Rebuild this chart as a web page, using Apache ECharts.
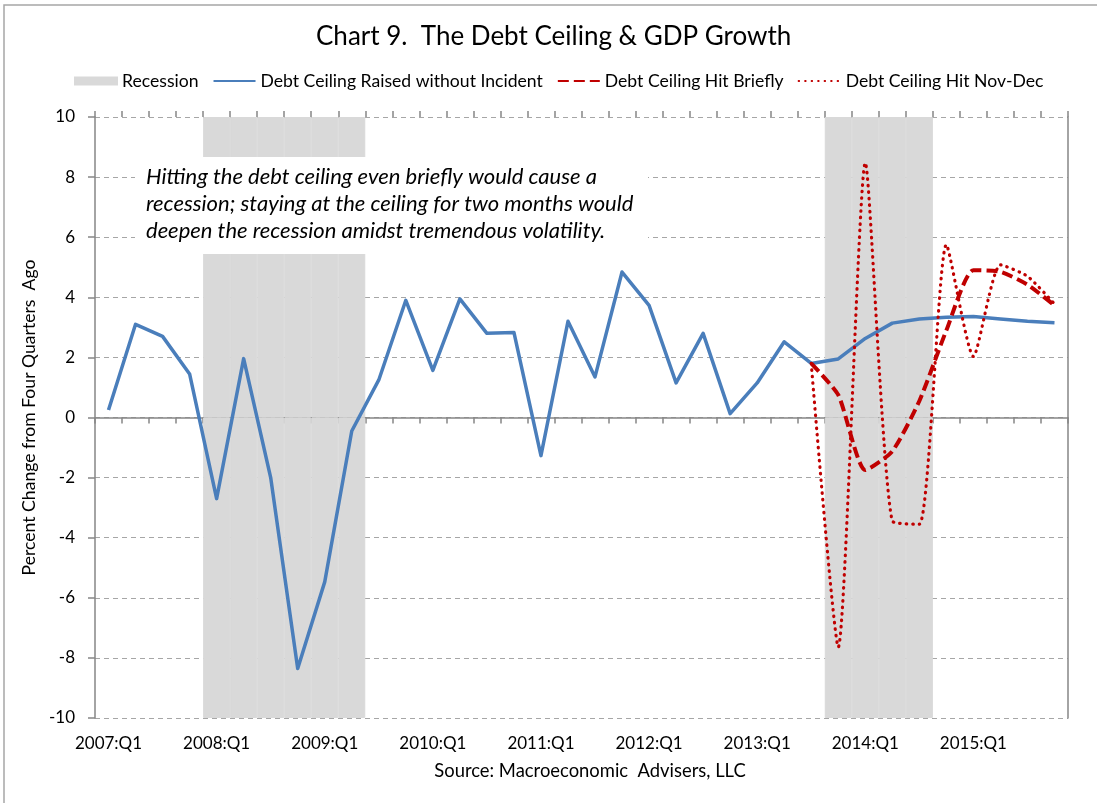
<!DOCTYPE html>
<html>
<head>
<meta charset="utf-8">
<title>Chart 9. The Debt Ceiling &amp; GDP Growth</title>
<script src="https://cdn.jsdelivr.net/npm/echarts@6/dist/echarts.min.js"></script>
<style>
  html, body { margin: 0; padding: 0; background: #fff; }
  #chart { width: 1097px; height: 803px; }
</style>
</head>
<body>
<div id="chart"></div>
<script>
// Quarterly categories, 2007:Q1 through 2015:Q4
const quarters = [];
for (let y = 2007; y <= 2015; y++) {
  for (let q = 1; q <= 4; q++) quarters.push(y + ':Q' + q);
}

// Recession periods (first and last quarter shaded)
const recessions = [
  ['2008:Q1', '2009:Q2'],
  ['2013:Q4', '2014:Q3']
];

// Real GDP, percent change from four quarters ago
const raisedWithoutIncident = [
  0.25, 3.1, 2.7, 1.45, -2.7, 1.96, -2.0, -8.35, -5.47, -0.45,
  1.25, 3.9, 1.57, 3.95, 2.8, 2.83, -1.27, 3.2, 1.35, 4.84,
  3.73, 1.15, 2.8, 0.13, 1.15, 2.52, 1.8, 1.95, 2.63, 3.14,
  3.28, 3.34, 3.36, 3.28, 3.2, 3.15
];
const hitBriefly = [
  null, null, null, null, null, null, null, null, null, null,
  null, null, null, null, null, null, null, null, null, null,
  null, null, null, null, null, null, 1.8, 0.75, -1.75, -1.12,
  0.55, 2.9, 4.9, 4.85, 4.42, 3.73
];
const hitNovDec = [
  null, null, null, null, null, null, null, null, null, null,
  null, null, null, null, null, null, null, null, null, null,
  null, null, null, null, null, null, 1.8, -7.64, 8.47, -3.45,
  -3.55, 5.75, 2.03, 5.08, 4.7, 3.78
];

const yTicks = [-10, -8, -6, -4, -2, 0, 2, 4, 6, 8, 10];

// Recession shading as full-height bars spanning whole quarters
const inRecession = quarters.map((q, i) =>
  recessions.some(([a, b]) => i >= quarters.indexOf(a) && i <= quarters.indexOf(b)));
const yMin = yTicks[0], yMax = yTicks[yTicks.length - 1];
const recessionUp = inRecession.map(f => f ? yMax : null);
const recessionDown = inRecession.map(f => f ? yMin : null);

const FONT = 'Lato, "Open Sans", sans-serif';
const AXIS_GRAY = '#868686';
const GRID_GRAY = '#a6a6a6';
const BLUE = '#4a7ebb';
const RED = '#c00000';
const SHADE = '#d9d9d9';
const TEXT_SIZE = 17.6;

// line entries in the legend show only the stroke, no marker
const lineLegend = name => ({ name, itemStyle: { opacity: 0 } });

const chart = echarts.init(document.getElementById('chart'), null, { renderer: 'canvas' });

chart.setOption({
  backgroundColor: '#ffffff',
  animation: false,
  textStyle: { fontFamily: FONT },
  title: {
    text: 'Chart 9.  The Debt Ceiling & GDP Growth',
    left: 316,
    top: 24,
    padding: 0,
    textStyle: { fontFamily: FONT, fontSize: 26, fontWeight: 'normal', color: '#000' }
  },
  legend: {
    left: 74,
    top: 72,
    padding: 0,
    itemWidth: 42,
    itemHeight: 7,
    itemGap: 14,
    textStyle: { fontFamily: FONT, fontSize: TEXT_SIZE, color: '#000' },
    data: [
      { name: 'Recession', icon: 'rect' },
      lineLegend('Debt Ceiling Raised without Incident'),
      lineLegend('Debt Ceiling Hit Briefly'),
      lineLegend('Debt Ceiling Hit Nov-Dec')
    ]
  },
  grid: { left: 95, right: 29, top: 117, bottom: 85 },
  xAxis: [
    {
      // labels along the bottom of the plot
      type: 'category',
      data: quarters,
      boundaryGap: true,
      position: 'bottom',
      axisLine: { show: false },
      axisTick: { show: false },
      axisLabel: {
        interval: 3,
        margin: 17,
        fontFamily: FONT,
        fontSize: 17,
        color: '#000'
      },
      splitLine: { show: false }
    },
    {
      // zero line with tick marks crossing it (upper half)
      type: 'category',
      data: quarters,
      boundaryGap: true,
      axisLine: { show: true, onZero: true, lineStyle: { color: AXIS_GRAY, width: 1.5 } },
      axisTick: { show: true, inside: true, length: 6, interval: 0, lineStyle: { color: AXIS_GRAY, width: 1.5 } },
      axisLabel: { show: false },
      splitLine: { show: false }
    },
    {
      // zero line tick marks (lower half)
      type: 'category',
      data: quarters,
      boundaryGap: true,
      axisLine: { show: false, onZero: true },
      axisTick: { show: true, inside: false, length: 6, interval: 0, lineStyle: { color: AXIS_GRAY, width: 1.5 } },
      axisLabel: { show: false },
      splitLine: { show: false }
    }
  ],
  yAxis: [
    {
      type: 'value',
      min: yMin,
      max: yMax,
      interval: 2,
      name: 'Percent Change from Four Quarters  Ago',
      nameLocation: 'middle',
      nameGap: 44,
      nameTextStyle: { fontFamily: FONT, fontSize: TEXT_SIZE, color: '#000' },
      axisLine: { show: true, lineStyle: { color: AXIS_GRAY, width: 1.5 } },
      axisTick: { show: true, length: 7, lineStyle: { color: AXIS_GRAY, width: 1.5 } },
      axisLabel: { fontFamily: FONT, fontSize: 17, color: '#000', margin: 20 },
      splitLine: { show: true, lineStyle: { color: GRID_GRAY, type: [5, 4], width: 1.2 } }
    },
    {
      type: 'value',
      min: yMin,
      max: yMax,
      interval: 2,
      position: 'right',
      axisLine: { show: true, lineStyle: { color: AXIS_GRAY, width: 1.5 } },
      axisTick: { show: false },
      axisLabel: { show: false },
      splitLine: { show: false }
    }
  ],
  series: [
    {
      name: 'Recession',
      type: 'bar',
      stack: 'recession',
      data: recessionUp,
      barWidth: '100%',
      itemStyle: { color: SHADE, borderColor: SHADE, borderWidth: 1 },
      silent: true,
      z: 1
    },
    {
      name: 'recession-lower',
      type: 'bar',
      stack: 'recession',
      data: recessionDown,
      barWidth: '100%',
      itemStyle: { color: SHADE, borderColor: SHADE, borderWidth: 1 },
      silent: true,
      z: 1
    },
    {
      name: 'Debt Ceiling Raised without Incident',
      type: 'line',
      data: raisedWithoutIncident,
      symbol: 'none',
      lineStyle: { color: BLUE, width: 3.5, join: 'round' },
      itemStyle: { color: BLUE },
      z: 3
    },
    {
      name: 'Debt Ceiling Hit Briefly',
      type: 'line',
      data: hitBriefly,
      symbol: 'none',
      smooth: 0.2,
      lineStyle: { color: RED, width: 4, type: [11, 5] },
      itemStyle: { color: RED },
      z: 4
    },
    {
      name: 'Debt Ceiling Hit Nov-Dec',
      type: 'line',
      data: hitNovDec,
      symbol: 'none',
      smooth: 0.2,
      lineStyle: { color: RED, width: 3.2, type: [0.5, 6], cap: 'round' },
      itemStyle: { color: RED },
      z: 5
    }
  ],
  graphic: [
    {
      // outer chart frame
      type: 'rect',
      shape: { x: 4, y: 5, width: 1200, height: 900 },
      style: { fill: null, stroke: '#a6a6a6', lineWidth: 1.5 },
      silent: true,
      z: 0
    },
    {
      // annotation box
      type: 'rect',
      shape: { x: 135, y: 157, width: 513, height: 97 },
      style: { fill: '#ffffff' },
      z: 50
    },
    {
      type: 'text',
      left: 146,
      top: 163,
      z: 51,
      style: {
        text: 'Hitting the debt ceiling even briefly would cause a\nrecession; staying at the ceiling for two months would\ndeepen the recession amidst tremendous volatility.',
        font: 'italic 22px ' + FONT,
        lineHeight: 27,
        fill: '#000'
      }
    },
    {
      type: 'text',
      x: 590,
      y: 762,
      style: {
        text: 'Source: Macroeconomic  Advisers, LLC',
        font: '18.4px ' + FONT,
        fill: '#000',
        textAlign: 'center'
      }
    }
  ]
});
</script>
</body>
</html>
